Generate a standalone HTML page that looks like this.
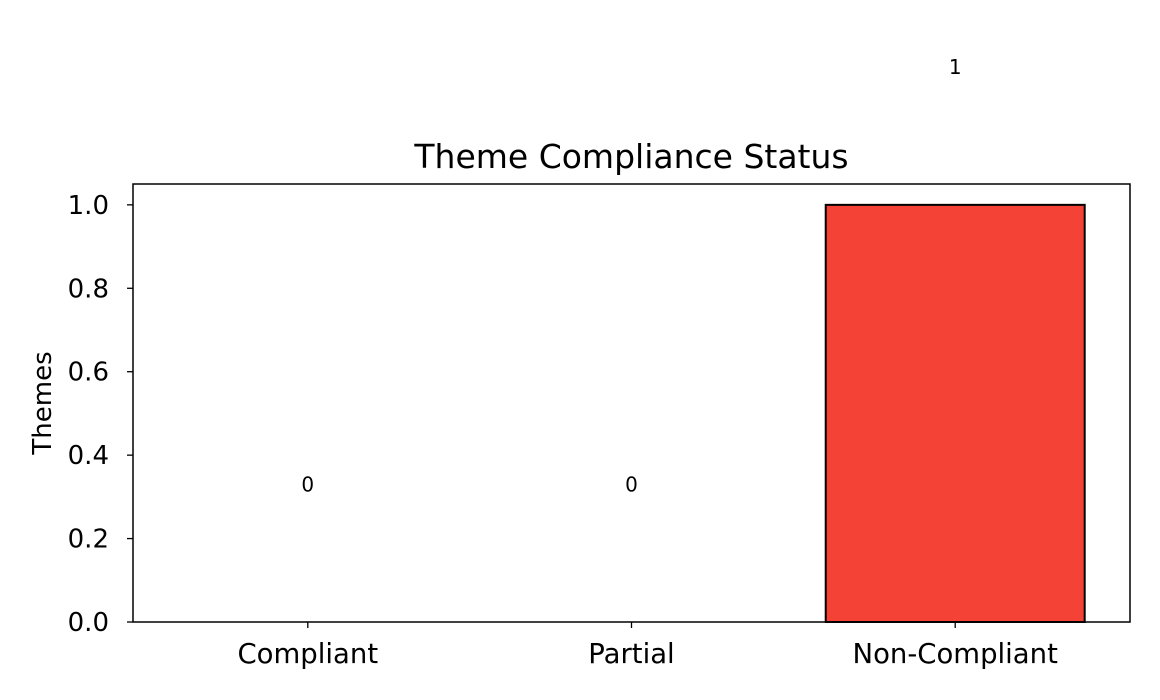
<!DOCTYPE html>
<html><head><meta charset="utf-8"><style>
html,body{margin:0;padding:0;background:#fff;}
svg{display:block;font-family:"DejaVu Sans","Liberation Sans",sans-serif;}
</style></head><body>
<svg id="chart" width="1160" height="700" viewBox="0 0 1160 700">
<text x="631.5" y="168" font-size="33" text-anchor="middle" fill="#000">Theme Compliance Status</text>
<text transform="translate(51,403) rotate(-90)" font-size="26" text-anchor="middle" fill="#000">Themes</text>
<g id="bars"></g>
<g id="yticks"></g>
<g id="xticks"></g>
<g id="labels"></g>
<rect x="133" y="184" width="997" height="438" fill="none" stroke="#000" stroke-width="1.5"/>
</svg>
<script>
const categories = ["Compliant", "Partial", "Non-Compliant"];
const values = [0, 0, 1];
const yTickLabels = ["0.0", "0.2", "0.4", "0.6", "0.8", "1.0"];
const yTickValues = [0, 0.2, 0.4, 0.6, 0.8, 1.0];
const labelOffset = 0.33;

const L = 133, R = 1130, T = 184, B = 622;
const xMin = -0.54, xMax = 2.54, yMin = 0, yMax = 1.05;
const xs = v => L + (v - xMin) / (xMax - xMin) * (R - L);
const ys = v => B - (v - yMin) / (yMax - yMin) * (B - T);
const NS = "http://www.w3.org/2000/svg";
function mk(tag, attrs, parent, text) {
  const e = document.createElementNS(NS, tag);
  for (const k in attrs) e.setAttribute(k, attrs[k]);
  if (text !== undefined) e.textContent = text;
  parent.appendChild(e);
  return e;
}
const gb = document.getElementById("bars"), gy = document.getElementById("yticks"),
      gx = document.getElementById("xticks"), gl = document.getElementById("labels");
categories.forEach((c, i) => {
  const x0 = xs(i - 0.4), x1 = xs(i + 0.4);
  const y0 = ys(values[i]);
  if (values[i] > 0) {
    const r = mk("rect", {x: x0, y: y0, width: x1 - x0, height: ys(0) - y0, fill: "#f44336", stroke: "#000", "stroke-width": 2}, gb);
    
    
  }
  const t = mk("line", {x1: xs(i), x2: xs(i), y1: B, y2: B + 6, stroke: "#000", "stroke-width": 1.3}, gx);
  
  
  const tl = mk("text", {x: xs(i), y: B + 41, "font-size": 27.5, "text-anchor": "middle"}, gx, c);
  
  
  const vl = mk("text", {x: xs(i), y: ys(values[i] + labelOffset) + 7, "font-size": 20, "text-anchor": "middle"}, gl, String(values[i]));
  
  
});
yTickValues.forEach((v, i) => {
  const y = ys(v);
  const t = mk("line", {x1: L - 6, x2: L, y1: y, y2: y, stroke: "#000", "stroke-width": 1.3}, gy);
  
  
  const tl = mk("text", {x: 109, y: y + 9, "font-size": 26, "text-anchor": "end"}, gy, yTickLabels[i]);
  
  
});
</script>
</body></html>
